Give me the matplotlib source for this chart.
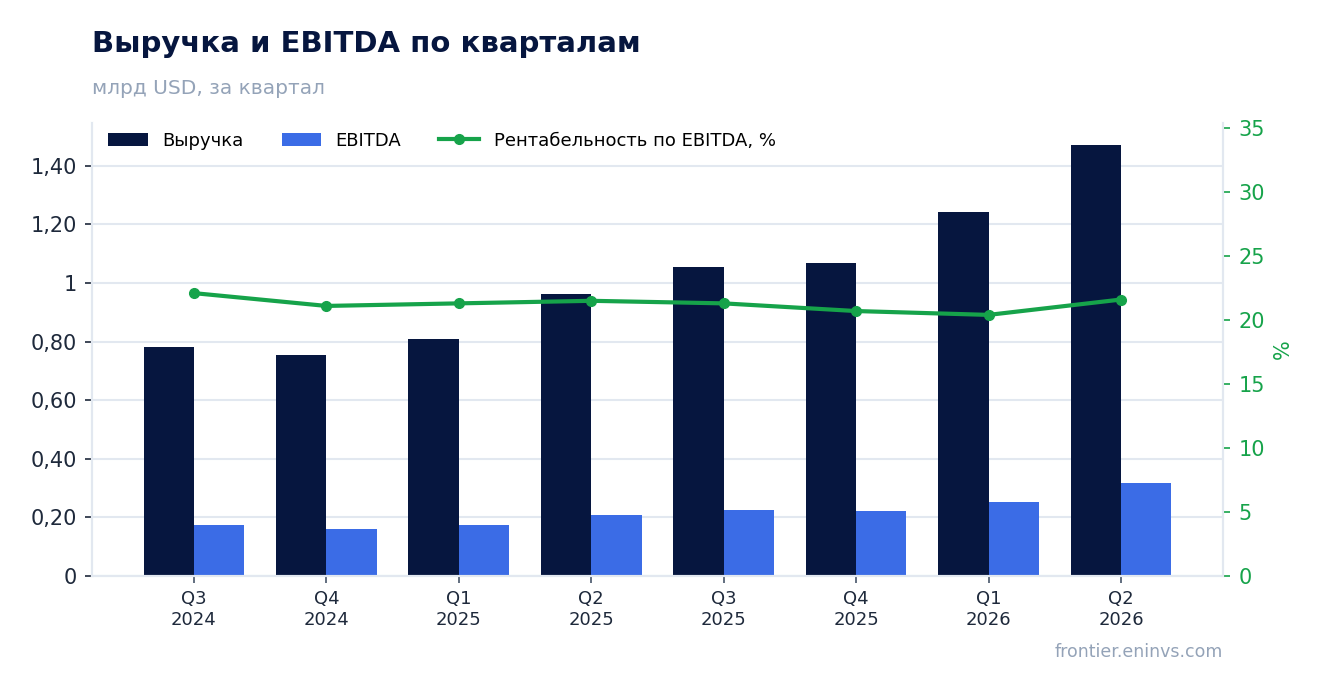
import matplotlib
matplotlib.use('Agg')
import matplotlib.pyplot as plt
import numpy as np
from matplotlib.ticker import FuncFormatter

quarters = ['Q3\n2024', 'Q4\n2024', 'Q1\n2025', 'Q2\n2025',
            'Q3\n2025', 'Q4\n2025', 'Q1\n2026', 'Q2\n2026']
revenue = [0.782, 0.754, 0.809, 0.962, 1.055, 1.068, 1.242, 1.471]
ebitda = [0.174, 0.160, 0.174, 0.208, 0.225, 0.222, 0.253, 0.317]
margin = [22.1, 21.1, 21.3, 21.5, 21.3, 20.7, 20.4, 21.6]
left_ticks = [0, 0.2, 0.4, 0.6, 0.8, 1.0, 1.2, 1.4]
right_ticks = [0, 5, 10, 15, 20, 25, 30, 35]

navy = '#06163f'
blue = '#3b6ce6'
green = '#16a34a'
grid_c = '#e2e8f0'
muted = '#94a3b8'
text_c = '#1e293b'

fig = plt.figure(figsize=(13.23, 6.93), dpi=100)
ax = fig.add_axes([0.0695, 0.1688, 0.8549, 0.6537])
ax2 = ax.twinx()

x = np.arange(len(quarters))
w = 0.38
ax.bar(x - w / 2, revenue, w, color=navy, label='Выручка', zorder=2)
ax.bar(x + w / 2, ebitda, w, color=blue, label='EBITDA', zorder=2)
ax2.plot(x, margin, color=green, lw=3, marker='o', ms=7,
         label='Рентабельность по EBITDA, %', zorder=3)

ax.set_xlim(-0.77, 7.77)
ax.set_ylim(0, 1.546)
ax2.set_ylim(0, 35.39)
ax.set_xticks(x)
ax.set_xticklabels(quarters, fontsize=13, color=text_c, linespacing=1.2)
ax.set_yticks(left_ticks)


def fmt(v, pos):
    if abs(v) < 1e-9:
        return '0'
    if abs(v - round(v)) < 1e-9:
        return '%d' % round(v)
    return ('%.2f' % v).replace('.', ',')


ax.yaxis.set_major_formatter(FuncFormatter(fmt))
ax.tick_params(axis='y', labelsize=15, colors=text_c, length=5, width=1.2, pad=6)
ax.tick_params(axis='x', length=5, width=1.2, color='#475569', pad=5)
ax.grid(axis='y', color=grid_c, lw=1.5, zorder=0)
ax.set_axisbelow(True)

ax2.set_yticks(right_ticks)
ax2.tick_params(axis='y', labelsize=15, colors=green, length=5, width=1.2, pad=6)
ax2.set_ylabel('%', color=green, fontsize=15, labelpad=6)

for a in (ax, ax2):
    a.spines['top'].set_visible(False)
    for s in ('left', 'right', 'bottom'):
        a.spines[s].set_color(grid_c)
        a.spines[s].set_linewidth(1.5)

h1, l1 = ax.get_legend_handles_labels()
h2, l2 = ax2.get_legend_handles_labels()
ax2.legend(h1 + h2, l1 + l2, loc='upper left', ncol=3, frameon=False,
           fontsize=13, bbox_to_anchor=(0.0, 1.017), columnspacing=2.1,
           handlelength=2.2)

fig.text(0.0695, 0.936, 'Выручка и EBITDA по кварталам', fontsize=21,
         fontweight='bold', color=navy, va='center')
fig.text(0.0695, 0.873, 'млрд USD, за квартал', fontsize=14.5, color=muted,
         va='center')
fig.text(0.9244, 0.059, 'frontier.eninvs.com', fontsize=12.5, color=muted,
         ha='right', va='center')

fig.savefig('out.png', dpi=100)
